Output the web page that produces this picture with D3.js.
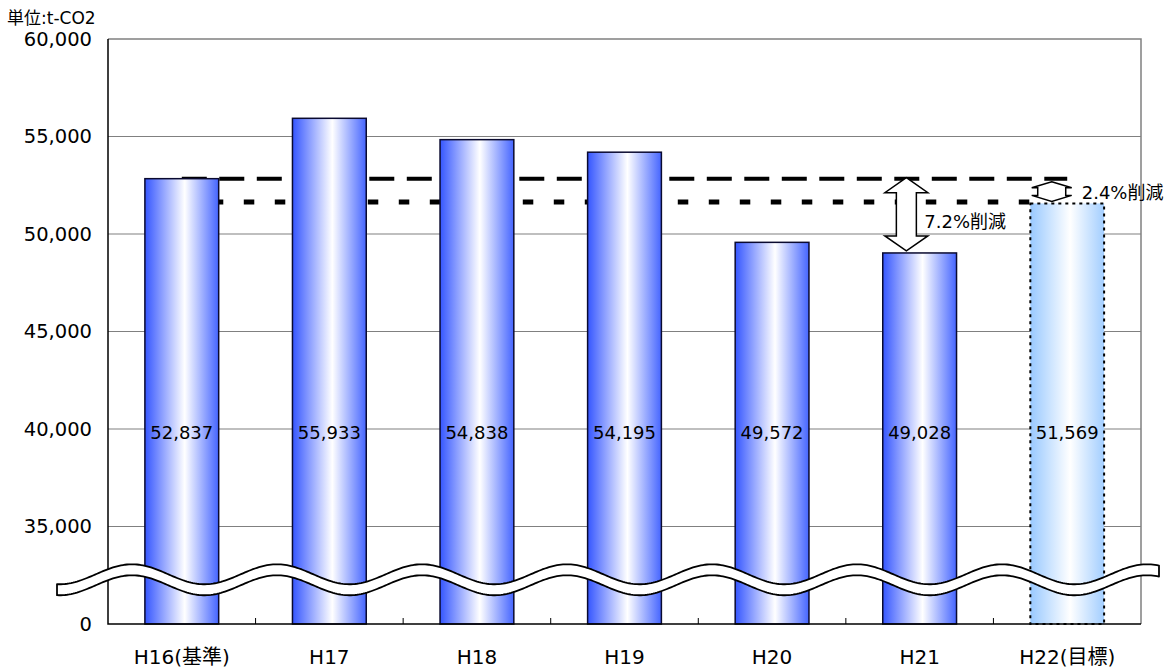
<!DOCTYPE html>
<html>
<head>
<meta charset="utf-8">
<script src="https://cdn.jsdelivr.net/npm/d3@7"></script>
<style>
  body { margin: 0; background: #fff; }
  text { font-family: "DejaVu Sans", "Noto Sans CJK JP", sans-serif; }
</style>
</head>
<body>
<div id="chart"></div>
<script>
// data
var categories = ["H16(基準)", "H17", "H18", "H19", "H20", "H21", "H22(目標)"];
var emissions = [52837, 55933, 54838, 54195, 49572, 49028, 51569];
var valueLabels = ["52,837", "55,933", "54,838", "54,195", "49,572", "49,028", "51,569"];
var yTicks = [30000, 35000, 40000, 45000, 50000, 55000, 60000];
var yTickLabels = ["0", "35,000", "40,000", "45,000", "50,000", "55,000", "60,000"];
var unitLabel = "単位:t-CO2";
var cutLabels = ["7.2%削減", "2.4%削減"];

var W = 1171, H = 671;
var plotLeft = 108, plotRight = 1141, plotTop = 39, plotBottom = 624;

var svg = d3.select("#chart").append("svg")
  .attr("width", W).attr("height", H);

var x = d3.scaleBand().domain(categories).range([plotLeft, plotRight])
  .paddingInner(0.5).paddingOuter(0.25);
var y = d3.scaleLinear().domain([30000, 60000]).range([plotBottom, plotTop]);
var step = x.step();

// gradients
var defs = svg.append("defs");
function grad(id, c1, c2) {
  var g = defs.append("linearGradient").attr("id", id)
    .attr("x1", "0%").attr("x2", "100%").attr("y1", "0%").attr("y2", "0%");
  g.append("stop").attr("offset", "0%").attr("stop-color", c1);
  g.append("stop").attr("offset", "54%").attr("stop-color", "#ffffff");
  g.append("stop").attr("offset", "100%").attr("stop-color", c2);
}
grad("barGrad", "#3556ff", "#4565ff");
grad("targetGrad", "#99c9ff", "#a3ceff");

// grid lines
svg.append("g").selectAll("line")
  .data(yTicks.slice(1, -1))
  .enter().append("line")
  .attr("x1", plotLeft).attr("x2", plotRight)
  .attr("y1", function(d) { return y(d); })
  .attr("y2", function(d) { return y(d); })
  .attr("stroke", "#808080").attr("stroke-width", 1.2);

// frame: top + right grey
svg.append("path")
  .attr("d", "M" + plotLeft + "," + plotTop + "H" + plotRight + "V" + plotBottom)
  .attr("fill", "none").attr("stroke", "#808080").attr("stroke-width", 1.5);

// reference lines
var x0 = x(categories[0]) + x.bandwidth() / 2;
var xt = x(categories[6]);
svg.append("line")
  .attr("x1", x0).attr("x2", xt + x.bandwidth() / 2)
  .attr("y1", y(emissions[0])).attr("y2", y(emissions[0]))
  .attr("stroke", "#000").attr("stroke-width", 4)
  .attr("stroke-dasharray", "25,12.5");
svg.append("line")
  .attr("x1", x0).attr("x2", xt)
  .attr("y1", y(emissions[6]) - 1.5).attr("y2", y(emissions[6]) - 1.5)
  .attr("stroke", "#000").attr("stroke-width", 5)
  .attr("stroke-dasharray", "10.5,20.5");

// bars
svg.append("g").selectAll("rect")
  .data(emissions)
  .enter().append("rect")
  .attr("x", function(d, i) { return x(categories[i]); })
  .attr("y", function(d) { return y(d); })
  .attr("width", x.bandwidth())
  .attr("height", function(d) { return plotBottom - y(d); })
  .attr("fill", function(d, i) { return i == 6 ? "url(#targetGrad)" : "url(#barGrad)"; })
  .attr("stroke", function(d, i) { return i == 6 ? "#000" : "#0a0a30"; })
  .attr("stroke-width", function(d, i) { return i == 6 ? 2 : 1.5; })
  .attr("stroke-dasharray", function(d, i) { return i == 6 ? "3,4" : null; });

// value labels
svg.append("g").selectAll("text")
  .data(valueLabels)
  .enter().append("text")
  .attr("x", function(d, i) { return x(categories[i]) + x.bandwidth() / 2; })
  .attr("y", y(39800))
  .attr("text-anchor", "middle").attr("dominant-baseline", "central")
  .attr("font-size", "18px").attr("fill", "#000")
  .text(function(d) { return d; });

// left + bottom axis lines
svg.append("path")
  .attr("d", "M" + plotLeft + "," + plotTop + "V" + plotBottom + "H" + plotRight)
  .attr("fill", "none").attr("stroke", "#000").attr("stroke-width", 1.5);

// small ticks between categories
svg.append("g").selectAll("line")
  .data(categories.slice(1))
  .enter().append("line")
  .attr("x1", function(d) { return x(d) - step * 0.25; })
  .attr("x2", function(d) { return x(d) - step * 0.25; })
  .attr("y1", plotBottom).attr("y2", plotBottom - 6)
  .attr("stroke", "#000").attr("stroke-width", 1);

// y tick labels
svg.append("g").selectAll("text")
  .data(yTicks)
  .enter().append("text")
  .attr("x", 92)
  .attr("y", function(d) { return y(d); })
  .attr("text-anchor", "end").attr("dominant-baseline", "central")
  .attr("font-size", "19.5px").attr("fill", "#000")
  .text(function(d, i) { return yTickLabels[i]; });

// category labels
svg.append("g").selectAll("text")
  .data(categories)
  .enter().append("text")
  .attr("x", function(d) { return x(d) + x.bandwidth() / 2; })
  .attr("y", 657)
  .attr("text-anchor", "middle").attr("dominant-baseline", "central")
  .attr("font-size", "20px").attr("fill", "#000")
  .text(function(d) { return d; });

// unit label
svg.append("text")
  .attr("x", 7).attr("y", 18)
  .attr("dominant-baseline", "central")
  .attr("font-size", "17px")
  .text(unitLabel);

// axis break wave
var yc = y(32550), amp = 10, thick = 11, period = 145, crest = 132;
var xs = d3.range(57, 1161, 2);
function wy(xx) { return yc - amp * Math.cos(2 * Math.PI * (xx - crest) / period); }
var upper = xs.map(function(xx) { return [xx, wy(xx)]; });
var lower = xs.slice().reverse().map(function(xx) { return [xx, wy(xx) + thick]; });
svg.append("path")
  .attr("d", d3.line()(upper.concat(lower)) + "Z")
  .attr("fill", "#fff").attr("stroke", "#000").attr("stroke-width", 1.8)
  .attr("stroke-linejoin", "round");

// double arrows
function dblArrow(cx, y1, y2, shaftW, headW, headH) {
  var s = shaftW / 2, h = headW / 2;
  var pts = [
    [cx, y1], [cx + h, y1 + headH], [cx + s, y1 + headH], [cx + s, y2 - headH],
    [cx + h, y2 - headH], [cx, y2], [cx - h, y2 - headH], [cx - s, y2 - headH],
    [cx - s, y1 + headH], [cx - h, y1 + headH]
  ];
  svg.append("path")
    .attr("d", d3.line()(pts) + "Z")
    .attr("fill", "#fff").attr("stroke", "#000").attr("stroke-width", 1.5)
    .attr("stroke-linejoin", "miter");
}
var ax1 = x(categories[5]) + x.bandwidth() * 0.32;
dblArrow(ax1, y(emissions[0]) - 1, y(emissions[5]) - 2, 20, 43, 15);
var ax2 = x(categories[6]) + x.bandwidth() * 0.29;
dblArrow(ax2, y(emissions[0]) + 3, y(emissions[6]) - 2, 28, 40, 6);

svg.append("text")
  .attr("x", ax1 + 18).attr("y", y(emissions[6]) + 18)
  .attr("dominant-baseline", "central").attr("font-size", "18px")
  .text(cutLabels[0]);
svg.append("text")
  .attr("x", ax2 + 30).attr("y", (y(emissions[0]) + y(emissions[6])) / 2 + 1)
  .attr("dominant-baseline", "central").attr("font-size", "18px")
  .text(cutLabels[1]);
</script>
</body>
</html>
